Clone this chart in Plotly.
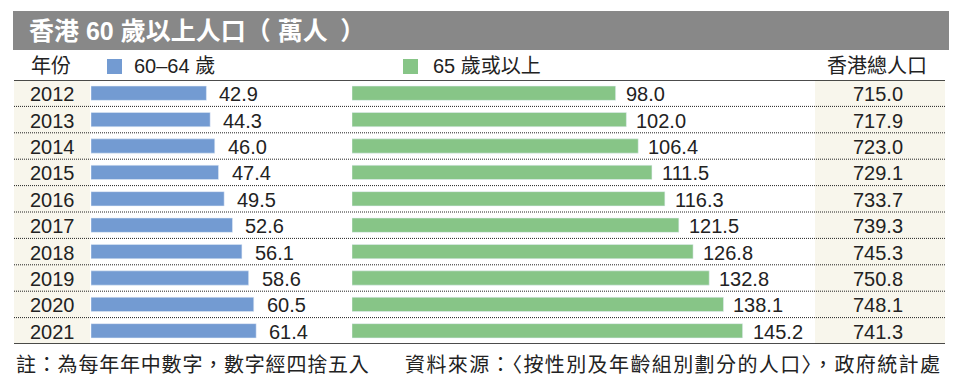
import plotly.graph_objects as go

years = ["2012", "2013", "2014", "2015", "2016", "2017", "2018", "2019", "2020", "2021"]
age_60_64 = [42.9, 44.3, 46.0, 47.4, 49.5, 52.6, 56.1, 58.6, 60.5, 61.4]
age_65_plus = [98.0, 102.0, 106.4, 111.5, 116.3, 121.5, 126.8, 132.8, 138.1, 145.2]
total_pop = [715.0, 717.9, 723.0, 729.1, 733.7, 739.3, 745.3, 750.8, 748.1, 741.3]

title_text = "香港 60 歲以上人口（ 萬人\u2002）"
col_year = "年份"
series1_name = "60–64 歲"
series2_name = "65 歲或以上"
col_total = "香港總人口"
note_text = "註：為每年年中數字，數字經四捨五入"
source_text = "資料來源：〈按性別及年齡組別劃分的人口〉，政府統計處"

W, H = 960, 391
FONT = "Liberation Sans, Arial, Noto Sans CJK TC, sans-serif"
BLUE = "#739bd2"
GREEN = "#87c587"
BEIGE = "#f8f6ec"
GREY = "#888888"
TXT = "#222222"

def px(x):
    return x / W

def py(y):
    return 1 - y / H

SCALE = 2.69  # pixels per unit
top, bottom = 79, 343
ylo, yhi = py(bottom + 1), py(top + 1)

fig = go.Figure()
fig.add_trace(go.Bar(x=age_60_64, y=years, orientation="h", marker_color=BLUE,
                     width=0.54, xaxis="x", yaxis="y", hoverinfo="skip",
                     name=series1_name, showlegend=False))
fig.add_trace(go.Bar(x=age_65_plus, y=years, orientation="h", marker_color=GREEN,
                     width=0.54, xaxis="x2", yaxis="y", hoverinfo="skip",
                     name=series2_name, showlegend=False))

b1_left, b1_w = 91, 240
b2_left, b2_w = 352, 450

shapes = []
annotations = []
n = len(years)

# title bar
shapes.append(dict(type="rect", xref="paper", yref="paper", x0=px(13), x1=px(949),
                   y0=py(50), y1=py(11), fillcolor=GREY, line_width=0, layer="below"))
annotations.append(dict(text="<b>" + title_text + "</b>", xref="paper", yref="paper",
                        x=px(27), y=py(31), xanchor="left", yanchor="middle",
                        showarrow=False, font=dict(family=FONT, size=25, color="white")))

# beige columns
shapes.append(dict(type="rect", xref="paper", yref="y", x0=px(14), x1=px(90),
                   y0=-0.5, y1=n - 0.5, fillcolor=BEIGE, line_width=0, layer="below"))
shapes.append(dict(type="rect", xref="paper", yref="y", x0=px(815), x1=px(945),
                   y0=-0.5, y1=n - 0.5, fillcolor=BEIGE, line_width=0, layer="below"))

# header line & bottom line
shapes.append(dict(type="line", xref="paper", yref="y", x0=px(14), x1=px(945),
                   y0=-0.5, y1=-0.5, line=dict(color="#111111", width=1.5)))
shapes.append(dict(type="line", xref="paper", yref="y", x0=px(14), x1=px(945),
                   y0=n - 0.5, y1=n - 0.5, line=dict(color="#111111", width=1.5)))
# dotted separators
for i in range(n - 1):
    shapes.append(dict(type="line", xref="paper", yref="y", x0=px(14), x1=px(945),
                       y0=i + 0.5, y1=i + 0.5,
                       line=dict(color="#222222", width=1, dash="1px,1px")))

# header row
hy = py(66)
annotations.append(dict(text=col_year, xref="paper", yref="paper", x=px(51), y=hy,
                        xanchor="center", yanchor="middle", showarrow=False,
                        font=dict(family=FONT, size=20, color=TXT)))
shapes.append(dict(type="rect", xref="paper", yref="paper", x0=px(107), x1=px(122),
                   y0=py(74), y1=py(59), fillcolor=BLUE, line_width=0))
annotations.append(dict(text=series1_name, xref="paper", yref="paper", x=px(132), y=hy,
                        xanchor="left", yanchor="middle", showarrow=False,
                        font=dict(family=FONT, size=20, color=TXT)))
shapes.append(dict(type="rect", xref="paper", yref="paper", x0=px(403), x1=px(418),
                   y0=py(74), y1=py(59), fillcolor=GREEN, line_width=0))
annotations.append(dict(text=series2_name, xref="paper", yref="paper", x=px(431), y=hy,
                        xanchor="left", yanchor="middle", showarrow=False,
                        font=dict(family=FONT, size=20, color=TXT)))
annotations.append(dict(text=col_total, xref="paper", yref="paper", x=px(877), y=hy,
                        xanchor="center", yanchor="middle", showarrow=False,
                        font=dict(family=FONT, size=20, color=TXT)))

# rows
for i, (yr, a, b, t) in enumerate(zip(years, age_60_64, age_65_plus, total_pop)):
    annotations.append(dict(text=yr, xref="paper", yref="y", x=px(52), y=i,
                            xanchor="center", yanchor="middle", showarrow=False, yshift=-1,
                            font=dict(family=FONT, size=20, color=TXT)))
    annotations.append(dict(text=f"{a:.1f}", xref="x", yref="y", x=a, y=i,
                            xanchor="left", yanchor="middle", showarrow=False, xshift=11, yshift=-1,
                            font=dict(family=FONT, size=20, color=TXT)))
    annotations.append(dict(text=f"{b:.1f}", xref="x2", yref="y", x=b, y=i,
                            xanchor="left", yanchor="middle", showarrow=False, xshift=8, yshift=-1,
                            font=dict(family=FONT, size=20, color=TXT)))
    annotations.append(dict(text=f"{t:.1f}", xref="paper", yref="y", x=px(878), y=i,
                            xanchor="center", yanchor="middle", showarrow=False, yshift=-1,
                            font=dict(family=FONT, size=20, color=TXT)))

# footer
annotations.append(dict(text='<span style="letter-spacing:0.8px">' + note_text + '</span>',
                        xref="paper", yref="paper", x=px(14), y=py(365),
                        xanchor="left", yanchor="middle", showarrow=False,
                        font=dict(family=FONT, size=20, color=TXT)))
annotations.append(dict(text='<span style="letter-spacing:1.4px">' + source_text + '</span>',
                        xref="paper", yref="paper", x=px(943), y=py(365),
                        xanchor="right", yanchor="middle", showarrow=False,
                        font=dict(family=FONT, size=20, color=TXT)))

fig.update_layout(
    width=W, height=H, autosize=False,
    margin=dict(l=0, r=0, t=0, b=0, pad=0),
    paper_bgcolor="white", plot_bgcolor="rgba(0,0,0,0)",
    barmode="overlay", showlegend=False,
    xaxis=dict(domain=[px(b1_left), px(b1_left + b1_w)], range=[0, b1_w / SCALE],
               visible=False, fixedrange=True, anchor="y"),
    xaxis2=dict(domain=[px(b2_left), px(b2_left + b2_w)], range=[0, b2_w / SCALE],
                visible=False, fixedrange=True, anchor="y"),
    yaxis=dict(domain=[ylo, yhi], range=[n - 0.5, -0.5], type="category",
               categoryarray=years, visible=False, fixedrange=True),
    shapes=shapes, annotations=annotations,
)

fig.write_html("out.html", config={"displayModeBar": False})
